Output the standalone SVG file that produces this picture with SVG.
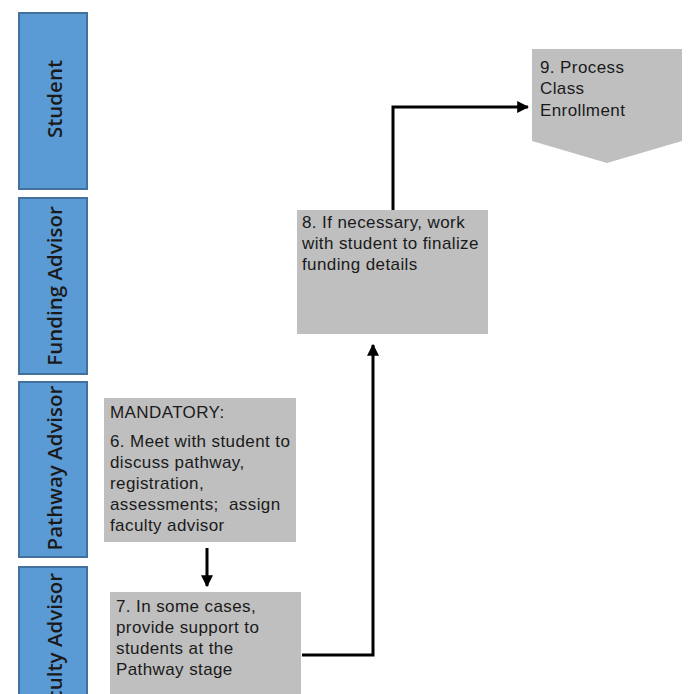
<svg xmlns="http://www.w3.org/2000/svg" width="688" height="694" viewBox="0 0 688 694">
<style>
.lane{fill:#5b9bd5;stroke:#41719c;stroke-width:2}
.lt{font-family:"Open Sans","Noto Sans",sans-serif;font-weight:600;font-size:20.5px;fill:#1a1a1a;text-anchor:middle}
.box{fill:#bfbfbf}
.bt{font-family:"Liberation Sans",Arial,sans-serif;font-size:17px;letter-spacing:0.4px;fill:#1a1a1a;white-space:pre}
.conn{fill:none;stroke:#000;stroke-width:3}
</style>
<defs>
<marker id="ah" viewBox="0 0 10 10" refX="9" refY="5" markerWidth="4" markerHeight="4" orient="auto" markerUnits="strokeWidth">
<path d="M0,0 L10,5 L0,10 z" fill="#000"/>
</marker>
</defs>
<rect width="688" height="694" fill="#fff"/>
<g id="lane-student"><rect class="lane" x="19" y="13" width="68" height="176"/><text class="lt" transform="translate(62,99) rotate(-90)">Student</text></g>
<g id="lane-funding"><rect class="lane" x="19" y="198" width="68" height="176"/><text class="lt" transform="translate(62,286) rotate(-90)">Funding Advisor</text></g>
<g id="lane-pathway"><rect class="lane" x="19" y="382" width="68" height="175"/><text class="lt" transform="translate(62,468) rotate(-90)">Pathway Advisor</text></g>
<g id="lane-faculty"><rect class="lane" x="19" y="567" width="68" height="140"/><text class="lt" transform="translate(62,648) rotate(-90)">Faculty Advisor</text></g>
<g id="connectors">
<path class="conn" d="M207,548 V586" marker-end="url(#ah)"/>
<path class="conn" d="M302,655 H373 V345" marker-end="url(#ah)"/>
<path class="conn" d="M393,210 V107 H528" marker-end="url(#ah)"/>
</g>
<g id="node6"><rect class="box" x="104" y="398" width="192" height="144"/>
<text class="bt" x="110" y="418">MANDATORY:</text>
<text class="bt" x="110" y="447">6. Meet with student to</text>
<text class="bt" x="110" y="468">discuss pathway,</text>
<text class="bt" x="110" y="489">registration,</text>
<text class="bt" x="110" y="510" xml:space="preserve">assessments;  assign</text>
<text class="bt" x="110" y="531">faculty advisor</text></g>
<g id="node7"><rect class="box" x="110" y="592" width="191" height="110"/>
<text class="bt" x="116" y="612">7. In some cases,</text>
<text class="bt" x="116" y="633">provide support to</text>
<text class="bt" x="116" y="654">students at the</text>
<text class="bt" x="116" y="675">Pathway stage</text></g>
<g id="node8"><rect class="box" x="297" y="210" width="191" height="124"/>
<text class="bt" x="302" y="228">8. If necessary, work</text>
<text class="bt" x="302" y="249">with student to finalize</text>
<text class="bt" x="302" y="270">funding details</text></g>
<g id="node9"><polygon class="box" points="532,49 682,49 682,141 607,163 532,141"/>
<text class="bt" x="540" y="73">9. Process</text>
<text class="bt" x="540" y="94">Class</text>
<text class="bt" x="540" y="116">Enrollment</text></g>
</svg>
